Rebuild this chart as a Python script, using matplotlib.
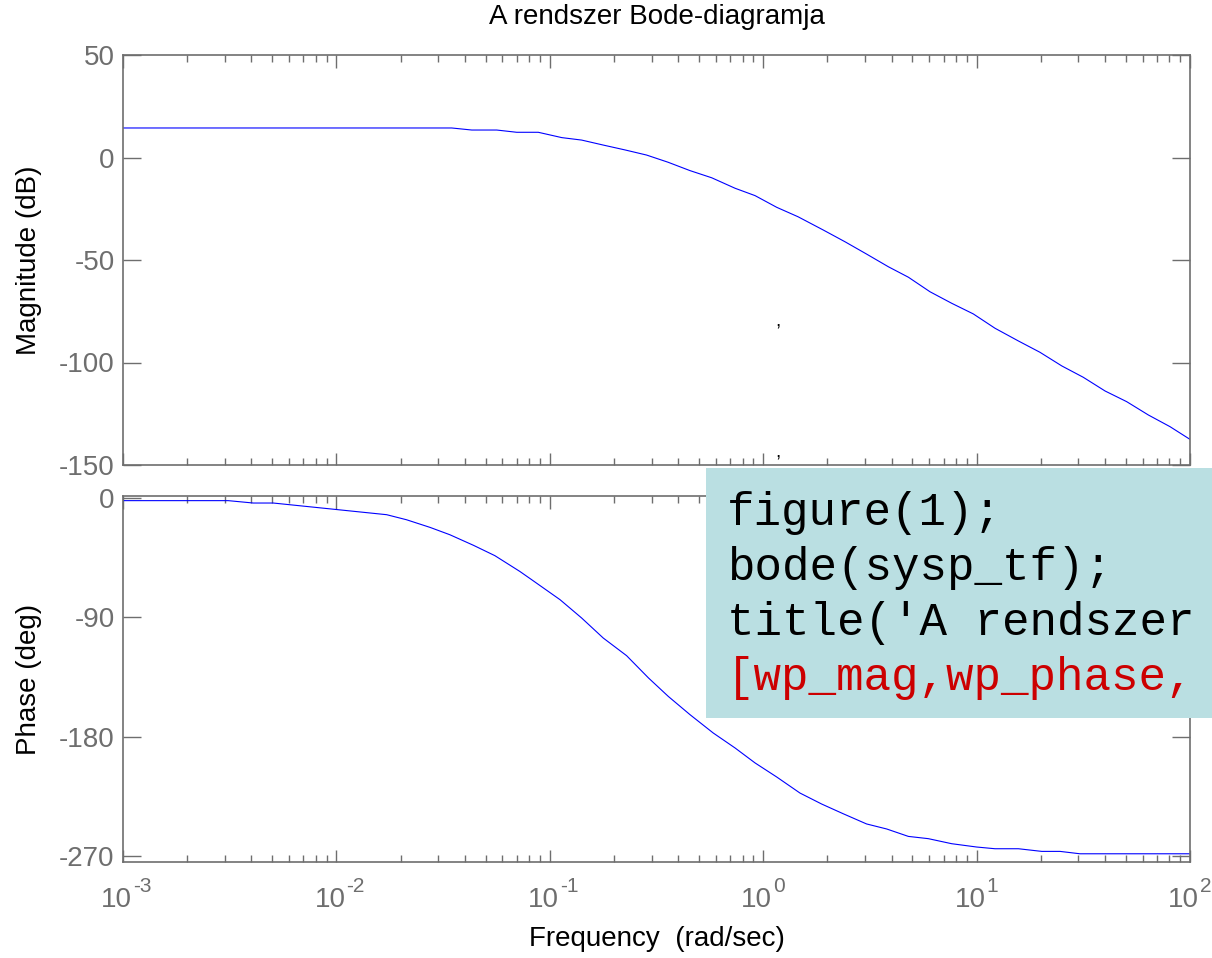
import matplotlib
matplotlib.use("Agg")
import matplotlib.pyplot as plt
import matplotlib.transforms as mtransforms
from matplotlib.patches import Rectangle

plt.rcParams['font.family'] = ['Liberation Sans', 'DejaVu Sans']
plt.rcParams['axes.unicode_minus'] = False

# ---- data ----
mag_freq = [0.001, 0.0347, 0.0431, 0.0564, 0.0700, 0.0883, 0.1138, 0.141, 0.1774,
            0.225, 0.284, 0.358, 0.454, 0.574, 0.738, 0.916, 1.157, 1.456, 1.914,
            2.417, 3.05, 3.86, 4.79, 6.05, 7.64, 9.65, 12.2, 15.7, 19.8, 25.1,
            31.6, 40.0, 50.5, 63.8, 80.6, 100.0]
mag_db = [14.4, 14.4, 13.4, 13.4, 12.3, 12.3, 9.7, 8.5, 6.1,
          3.7, 1.2, -2.3, -6.4, -9.9, -15.0, -18.6, -24.3, -28.9, -35.4,
          -41.1, -47.1, -53.3, -58.4, -65.5, -71.1, -76.3, -83.3, -89.5, -95.0, -101.7,
          -107.2, -113.9, -119.1, -125.6, -131.3, -137.5]

ph_freq = [0.001, 0.00311, 0.00408, 0.00506, 0.0172, 0.0213, 0.0275, 0.0340, 0.0439,
           0.0553, 0.0724, 0.0822, 0.1117, 0.141, 0.178, 0.229, 0.290, 0.359, 0.454,
           0.583, 0.738, 0.916, 1.157, 1.487, 1.88, 2.37, 3.05, 3.79, 4.79, 5.94,
           7.64, 10.0, 12.2, 15.7, 20.2, 24.6, 30.5, 100.0]
ph_deg = [-2.0, -2.0, -3.8, -3.8, -12.6, -16.4, -22.2, -27.7, -35.7,
          -43.5, -55.4, -61.6, -76.7, -90.5, -105.6, -118.9, -135.7, -149.6, -163.4,
          -177.2, -188.5, -199.8, -210.4, -222.5, -230.8, -238.1, -245.8, -249.6, -255.2, -256.9,
          -260.7, -263.2, -264.5, -264.5, -266.5, -266.5, -268.3, -268.3]

mag_ticks = [-150, -100, -50, 0, 50]
ph_ticks = [-270, -180, -90, 0]
freq_ticks = [1e-3, 1e-2, 1e-1, 1e0, 1e1, 1e2]
freq_tick_base = '10'
freq_tick_exps = ['-3', '-2', '-1', '0', '1', '2']

title_text = 'A rendszer Bode-diagramja'
xlabel_text = 'Frequency  (rad/sec)'
# visible part of the code overlay (cut by the picture's right edge)
code_lines = ["figure(1);", "bode(sysp_tf);", "title('A rendszer", "[wp_mag,wp_phase,"]
code_colors = ['black', 'black', 'black', '#cc0000']

# ---- figure ----
W, H = 1212, 958
fig = plt.figure(figsize=(W / 100, H / 100), dpi=100)

gray = '#6e6e6e'

def px_axes(x0, y0, x1, y1):
    return fig.add_axes([x0 / W, 1 - y1 / H, (x1 - x0) / W, (y1 - y0) / H])

ax1 = px_axes(123, 55, 1190, 465)
ax2 = px_axes(123, 496, 1190, 862)

for ax in (ax1, ax2):
    ax.set_xscale('log')
    ax.set_xlim(1e-3, 1e2)
    ax.set_xticks(freq_ticks)
    for s in ax.spines.values():
        s.set_color(gray)
        s.set_linewidth(1.2)
    ax.tick_params(which='both', direction='in', top=True, right=True,
                   colors=gray, labelsize=20, width=1.0)
    ax.tick_params(which='major', length=9)
    ax.tick_params(which='minor', length=5)
    ax.tick_params(axis='y', which='major', length=13, pad=6)
    ax.tick_params(axis='x', which='both', labelbottom=False)

ax1.plot(mag_freq, mag_db, color='#0000ff', linewidth=0.8)
ax1.set_ylim(-150, 50)
ax1.set_yticks(mag_ticks)
ax1.set_ylabel('Magnitude (dB)', fontsize=20, color='black', labelpad=12)
ax1.set_title(title_text, fontsize=20, color='black', pad=22)

ax2.plot(ph_freq, ph_deg, color='#0000ff', linewidth=0.8)
ax2.set_ylim(-274.5, 1.5)
ax2.set_yticks(ph_ticks)
ax2.set_ylabel('Phase (deg)', fontsize=20, color='black', labelpad=12)
ax2.set_xlabel(xlabel_text, fontsize=20, color='black', labelpad=46)

# x tick labels: base "10" with raised exponent
xt = ax2.get_xaxis_transform()
for f, e in zip(freq_ticks, freq_tick_exps):
    base_tr = mtransforms.offset_copy(xt, fig=fig, x=9, y=-45, units='dots')
    exp_tr = mtransforms.offset_copy(xt, fig=fig, x=10, y=-15, units='dots')
    ax2.text(f, 0, freq_tick_base, transform=base_tr, ha='right', va='baseline',
             fontsize=20, color=gray, clip_on=False)
    ax2.text(f, 0, e, transform=exp_tr, ha='left', va='top',
             fontsize=15, color=gray, clip_on=False)

# stray commas
fig.text(778 / W, 1 - 322 / H, ',', fontsize=14, color='black', ha='center', va='center')
fig.text(778 / W, 1 - 453 / H, ',', fontsize=14, color='black', ha='center', va='center')

# code overlay box
fig.patches.append(Rectangle((706 / W, 1 - 718 / H), (W - 706) / W, (718 - 468) / H,
                             transform=fig.transFigure, facecolor='#badfe2',
                             edgecolor='none', zorder=10))
baselines = [525, 580, 635, 690]
for txt, col, yb in zip(code_lines, code_colors, baselines):
    fig.text(727 / W, 1 - yb / H, txt, fontsize=33, color=col,
             family='Liberation Mono', ha='left', va='baseline', zorder=11)

fig.savefig('out.png', dpi=100)
